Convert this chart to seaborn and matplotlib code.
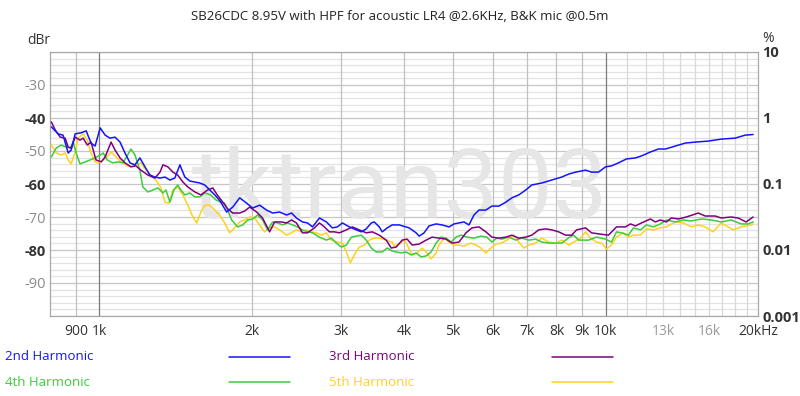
import numpy as np
import pandas as pd
import matplotlib
matplotlib.use("Agg")
import matplotlib.pyplot as plt
import seaborn as sns
from matplotlib.lines import Line2D
from matplotlib.ticker import FixedLocator, FixedFormatter, NullLocator

# ---------------- data ----------------
h2_freq = [805, 830, 849, 869, 881, 897, 921, 943, 964, 982,
           1005, 1028, 1051, 1075, 1100, 1125, 1151, 1177, 1204, 1232,
           1260, 1289, 1319, 1349, 1380, 1411, 1444, 1477, 1511, 1545,
           1581, 1617, 1654, 1692, 1731, 1786, 1836, 1895, 1956, 2010,
           2075, 2141, 2201, 2272, 2345, 2399, 2453, 2521, 2579, 2639,
           2723, 2811, 2888, 2955, 3023, 3120, 3220, 3294, 3369, 3447,
           3494, 3574, 3623, 3706, 3791, 3913, 4095, 4227, 4285, 4383,
           4483, 4628, 4755, 4909, 5021, 5136, 5254, 5374, 5498, 5623,
           5804, 5965, 6157, 6355, 6531, 6741, 6959, 7151, 7482, 7829,
           8192, 8456, 8729, 9133, 9385, 9687, 10000, 10276, 10607, 10999,
           11456, 11773, 12263, 12716, 13125, 13734, 14371, 15037, 15950, 16919,
           18026, 18863, 19560]
h2_db = [-42.7, -44.8, -45.2, -50.6, -49.7, -44.8, -44.5, -43.9, -47.6, -48.5,
         -43.0, -45.2, -46.1, -45.8, -47.3, -50.6, -53.6, -54.2, -52.1, -54.8,
         -57.3, -57.9, -58.2, -57.9, -58.8, -58.2, -54.2, -57.9, -59.1, -59.4,
         -59.7, -60.3, -61.8, -63.3, -65.0, -68.5, -67.0, -64.2, -65.8, -67.3,
         -66.4, -67.9, -68.8, -68.5, -69.4, -68.8, -70.3, -71.5, -71.8, -73.0,
         -70.3, -71.5, -73.3, -73.0, -71.8, -73.0, -73.9, -74.5, -73.6, -71.8,
         -71.5, -73.0, -74.5, -73.3, -72.4, -72.4, -73.3, -74.8, -75.8, -74.8,
         -72.7, -72.1, -72.4, -73.0, -72.1, -71.8, -71.5, -72.4, -69.4, -67.9,
         -67.9, -66.7, -66.7, -65.5, -64.2, -63.3, -61.8, -60.3, -59.7, -58.8,
         -57.9, -57.0, -56.4, -55.8, -56.4, -56.4, -54.8, -54.5, -53.6, -52.4,
         -52.1, -51.5, -50.3, -49.4, -49.4, -48.5, -47.6, -47.3, -47.0, -46.4,
         -46.1, -45.2, -45.0]

h3_freq = [805, 819, 838, 857, 869, 881, 897, 917, 930, 948,
           964, 986, 1010, 1028, 1056, 1075, 1100, 1125, 1156, 1182,
           1209, 1249, 1289, 1319, 1337, 1367, 1399, 1430, 1464, 1497,
           1545, 1588, 1639, 1677, 1715, 1755, 1794, 1836, 1895, 1938,
           1983, 2047, 2103, 2171, 2221, 2293, 2345, 2399, 2453, 2521,
           2579, 2662, 2723, 2786, 2849, 2915, 2982, 3078, 3163, 3264,
           3369, 3463, 3574, 3689, 3774, 3861, 3967, 4058, 4151, 4285,
           4423, 4545, 4691, 4843, 4976, 5136, 5302, 5448, 5623, 5804,
           5965, 6157, 6355, 6531, 6741, 6959, 7151, 7381, 7619, 7829,
           8081, 8341, 8572, 8768, 9133, 9385, 9775, 10137, 10511, 10949,
           11200, 11456, 11773, 12263, 12544, 12832, 13185, 13487, 13922, 14436,
           15243, 15735, 16464, 16919, 17703, 18274, 18949, 19560]
h3_db = [-41.2, -43.6, -45.8, -46.1, -48.8, -49.1, -45.8, -46.7, -46.1, -48.2,
         -47.3, -52.7, -53.3, -51.8, -47.3, -49.7, -52.1, -53.6, -54.8, -54.5,
         -55.8, -57.3, -58.2, -56.4, -54.2, -54.8, -56.4, -57.3, -59.4, -60.9,
         -62.4, -63.3, -61.8, -61.2, -63.5, -65.5, -67.5, -68.8, -68.8, -68.2,
         -67.0, -68.5, -70.3, -74.5, -71.5, -71.5, -71.8, -70.9, -71.8, -74.8,
         -74.8, -73.3, -71.8, -73.0, -74.5, -74.5, -74.8, -73.9, -73.0, -73.9,
         -74.8, -74.5, -75.5, -77.0, -79.4, -79.1, -77.0, -76.7, -78.5, -78.2,
         -77.0, -76.1, -76.4, -76.7, -77.9, -77.6, -74.8, -73.3, -73.0, -74.5,
         -76.1, -76.4, -76.1, -75.5, -76.4, -76.1, -75.5, -73.9, -73.6, -73.9,
         -74.5, -75.5, -75.5, -73.9, -73.3, -74.8, -75.2, -75.5, -73.0, -73.0,
         -72.1, -72.7, -71.8, -70.6, -71.5, -70.9, -71.5, -70.3, -70.6, -70.0,
         -68.8, -69.7, -69.7, -70.3, -70.0, -70.3, -71.5, -70.0]

h4_freq = [805, 823, 842, 861, 877, 889, 901, 917, 939, 960,
           982, 1005, 1019, 1037, 1065, 1090, 1115, 1130, 1156, 1177,
           1204, 1220, 1249, 1277, 1307, 1337, 1355, 1380, 1405, 1430,
           1450, 1477, 1511, 1545, 1581, 1617, 1661, 1700, 1739, 1770,
           1827, 1877, 1921, 1965, 2010, 2056, 2103, 2151, 2201, 2251,
           2303, 2356, 2410, 2464, 2521, 2579, 2639, 2723, 2811, 2875,
           2942, 3009, 3078, 3148, 3220, 3294, 3369, 3447, 3526, 3623,
           3706, 3791, 3861, 3949, 4039, 4132, 4227, 4324, 4423, 4524,
           4628, 4734, 4843, 4954, 5067, 5183, 5326, 5498, 5674, 5831,
           5965, 6102, 6241, 6443, 6650, 6833, 7054, 7281, 7482, 7723,
           7972, 8192, 8456, 8650, 8848, 9258, 9600, 10000, 10276, 10511,
           10752, 11099, 11353, 11720, 12043, 12431, 12832, 13185, 13734, 14241,
           14768, 15452, 16169, 16919, 17703, 18524, 19121, 19560]
h4_db = [-51.8, -49.1, -48.2, -48.8, -49.1, -47.3, -50.6, -53.9, -53.3, -52.7,
         -52.1, -51.2, -50.6, -52.7, -53.6, -53.3, -53.6, -52.1, -49.4, -51.2,
         -55.8, -60.9, -62.4, -61.8, -61.2, -62.7, -61.8, -65.5, -61.8, -60.3,
         -61.8, -63.3, -62.7, -63.9, -63.9, -62.7, -63.3, -64.8, -65.5, -65.8,
         -70.9, -73.0, -72.4, -70.9, -70.6, -69.4, -70.9, -73.9, -71.5, -71.8,
         -72.4, -71.8, -72.4, -73.0, -73.9, -74.5, -74.8, -76.1, -77.0, -76.4,
         -77.9, -79.1, -78.5, -76.1, -75.8, -75.5, -77.0, -79.4, -80.6, -80.6,
         -79.4, -80.3, -80.6, -80.9, -80.6, -81.5, -80.9, -82.1, -81.8, -80.6,
         -77.9, -76.1, -76.4, -77.6, -76.1, -75.5, -76.1, -76.4, -75.8, -76.1,
         -77.6, -76.4, -76.7, -76.1, -77.0, -76.4, -77.0, -76.7, -77.6, -77.9,
         -77.9, -77.9, -76.3, -75.5, -77.0, -77.0, -76.1, -76.7, -77.6, -74.5,
         -74.8, -75.5, -73.3, -73.9, -72.4, -73.0, -72.1, -70.9, -71.5, -70.9,
         -71.2, -70.6, -70.9, -71.5, -70.9, -72.1, -72.1, -71.5]

h5_freq = [805, 823, 842, 857, 869, 881, 897, 909, 930, 948,
           964, 982, 995, 1019, 1037, 1056, 1080, 1105, 1130, 1156,
           1182, 1209, 1238, 1266, 1295, 1325, 1349, 1374, 1399, 1430,
           1464, 1497, 1532, 1559, 1588, 1617, 1654, 1692, 1731, 1770,
           1811, 1852, 1895, 1938, 1983, 2028, 2075, 2122, 2171, 2221,
           2272, 2345, 2399, 2453, 2510, 2567, 2627, 2686, 2748, 2811,
           2875, 2955, 3023, 3078, 3134, 3191, 3264, 3339, 3416, 3494,
           3574, 3689, 3791, 3826, 3913, 4003, 4058, 4151, 4246, 4344,
           4443, 4524, 4628, 4691, 4799, 4909, 5021, 5136, 5254, 5423,
           5548, 5674, 5804, 5938, 6074, 6241, 6384, 6590, 6741, 6896,
           7054, 7281, 7482, 7723, 7972, 8192, 8456, 8650, 8929, 9133,
           9342, 9600, 9820, 10046, 10276, 10511, 10850, 11099, 11353, 11720,
           12043, 12431, 12832, 13185, 13734, 14241, 14768, 15243, 15735, 16316,
           16919, 17864, 18524, 19383, 19560]
h5_db = [-48.2, -50.6, -51.2, -50.6, -52.7, -53.9, -50.3, -46.1, -44.8, -46.7,
         -50.6, -53.3, -53.6, -52.7, -51.8, -50.3, -51.8, -53.3, -54.2, -54.8,
         -54.2, -53.6, -55.8, -57.3, -58.8, -61.2, -65.5, -65.8, -61.8, -60.9,
         -63.3, -66.4, -70.0, -71.8, -68.5, -66.4, -66.4, -67.9, -69.5, -71.8,
         -74.8, -73.3, -71.5, -70.9, -70.0, -70.3, -72.4, -74.5, -73.3, -73.0,
         -73.9, -75.5, -74.8, -73.9, -74.5, -73.9, -74.5, -74.8, -75.5, -74.8,
         -77.0, -77.6, -77.9, -80.6, -83.9, -81.5, -79.1, -78.5, -77.0, -76.4,
         -76.4, -77.0, -77.6, -78.8, -78.2, -77.0, -78.5, -81.5, -80.9, -79.4,
         -80.9, -82.7, -80.9, -78.5, -76.4, -77.6, -78.5, -78.5, -78.8, -77.9,
         -78.5, -79.4, -80.9, -79.4, -78.2, -77.9, -77.0, -75.5, -77.6, -79.4,
         -78.5, -77.9, -76.4, -77.6, -77.9, -77.0, -78.5, -77.6, -76.4, -74.5,
         -76.4, -77.6, -77.9, -79.7, -78.5, -76.1, -74.8, -76.1, -75.5, -75.5,
         -73.6, -73.9, -73.3, -73.0, -71.5, -71.8, -73.0, -72.4, -73.0, -74.5,
         -71.8, -73.9, -73.0, -72.4, -72.1]

series_names = ["2nd Harmonic", "3rd Harmonic", "4th Harmonic", "5th Harmonic"]
series_colors = ["#1414ff", "#800080", "#3ccc3c", "#ffd21e"]

x_ticks = [900, 1000, 2000, 3000, 4000, 5000, 6000, 7000, 8000, 9000, 10000, 13000, 16000, 20000]
x_labels = ["900", "1k", "2k", "3k", "4k", "5k", "6k", "7k", "8k", "9k", "10k", "13k", "16k", "20kHz"]
x_label_grey = ["13k", "16k"]
y_ticks = [-30, -40, -50, -60, -70, -80, -90]
y_labels = ["-30", "-40", "-50", "-60", "-70", "-80", "-90"]
y_label_bold = ["-40", "-60", "-80"]
pct_ticks = [0.001, 0.01, 0.1, 1, 10]
pct_labels = ["0.001", "0.01", "0.1", "1", "10"]

title = "SB26CDC 8.95V with HPF for acoustic LR4 @2.6KHz, B&K mic @0.5m"

# ---------------- figure ----------------
sns.set_style("white")
plt.rcParams["font.family"] = ["Open Sans", "DejaVu Sans"]

W, H = 800, 396
fig = plt.figure(figsize=(W / 100, H / 100), dpi=100)
ax = fig.add_axes([50 / W, 80 / H, 708 / W, 264 / H])

ax.set_xscale("log")
ax.set_xlim(800, 20000)
ax.set_ylim(-100, -20)

# grid
for v in np.arange(-100, -18, 2):
    c = "#c6c6c6" if v % 10 == 0 else "#e3e3e3"
    ax.axhline(v, color=c, lw=0.9, zorder=0.5)
vgrid_mid = [900, 2000, 3000, 4000, 5000, 6000, 7000, 8000, 9000]
vgrid_light = [11000, 12000, 13000, 14000, 15000, 16000, 17000, 18000, 19000]
for v in vgrid_mid:
    ax.axvline(v, color="#c0c0c0", lw=0.9, zorder=0.6)
for v in vgrid_light:
    ax.axvline(v, color="#d8d8d8", lw=0.9, zorder=0.6)
for v in [1000, 10000]:
    ax.axvline(v, color="#7a7a7a", lw=0.9, zorder=0.7)

# watermark
ax.text(0.494, 0.372, "tktran303", transform=ax.transAxes, ha="center", va="baseline",
        fontsize=70, color="#e6e6e6", family=["Roboto", "DejaVu Sans"], zorder=1)

df = pd.concat([
    pd.DataFrame({"freq": f, "db": d, "series": n})
    for f, d, n in zip([h2_freq, h3_freq, h4_freq, h5_freq],
                       [h2_db, h3_db, h4_db, h5_db], series_names)
], ignore_index=True)

draw_order = series_names[::-1]
for n in draw_order:
    sub = df[df["series"] == n]
    sns.lineplot(data=sub, x="freq", y="db", color=series_colors[series_names.index(n)],
                 lw=1.1, estimator=None, sort=True, legend=False, ax=ax, zorder=3)

ax.set_xlabel("")
ax.set_ylabel("")

ax.xaxis.set_major_locator(FixedLocator(x_ticks))
ax.xaxis.set_major_formatter(FixedFormatter(x_labels))
ax.xaxis.set_minor_locator(NullLocator())
ax.yaxis.set_major_locator(FixedLocator(y_ticks))
ax.yaxis.set_major_formatter(FixedFormatter(y_labels))
ax.yaxis.set_minor_locator(NullLocator())
ax.tick_params(axis="x", length=0, pad=6, labelsize=10)
ax.tick_params(axis="y", length=0, pad=3, labelsize=10.5)
for t in ax.get_xticklabels():
    t.set_color("#9a9a9a" if t.get_text() in x_label_grey else "#333333")
for t in ax.get_yticklabels():
    if t.get_text() in y_label_bold:
        t.set_color("#333333")
        t.set_fontweight("bold")
    else:
        t.set_color("#8c8c8c")

for s in ax.spines.values():
    s.set_color("#a8a8a8")
    s.set_linewidth(0.9)

ax2 = ax.twinx()
ax2.set_yscale("log")
ax2.set_ylim(0.001, 10)
ax2.yaxis.set_major_locator(FixedLocator(pct_ticks))
ax2.yaxis.set_major_formatter(FixedFormatter(pct_labels))
ax2.yaxis.set_minor_locator(NullLocator())
ax2.tick_params(axis="y", length=0, pad=3, labelsize=10.5, labelcolor="#333333")
for t in ax2.get_yticklabels():
    t.set_fontweight("bold")
for s in ax2.spines.values():
    s.set_visible(False)

# texts
fig.text(400 / W, 1 - 17 / H, title, ha="center", va="center", fontsize=9.5, color="#222222")
fig.text(27 / W, 1 - 40 / H, "dBr", ha="left", va="center", fontsize=10, color="#333333")
fig.text(762 / W, 1 - 38 / H, "%", ha="left", va="center", fontsize=10, color="#333333")

# legend (text + sample line, as in the reference)
leg_pos = [(5, 229, 357), (329, 552, 357), (5, 229, 382), (329, 552, 382)]
for (tx, lx, ly), n, c in zip(leg_pos, series_names, series_colors):
    fig.text(tx / W, 1 - ly / H, n, ha="left", va="center", fontsize=9.5, color=c)
    fig.add_artist(Line2D([lx / W, (lx + 61) / W], [1 - ly / H, 1 - ly / H],
                          transform=fig.transFigure, color=c, lw=1.1))

fig.savefig("out.png", dpi=100)
